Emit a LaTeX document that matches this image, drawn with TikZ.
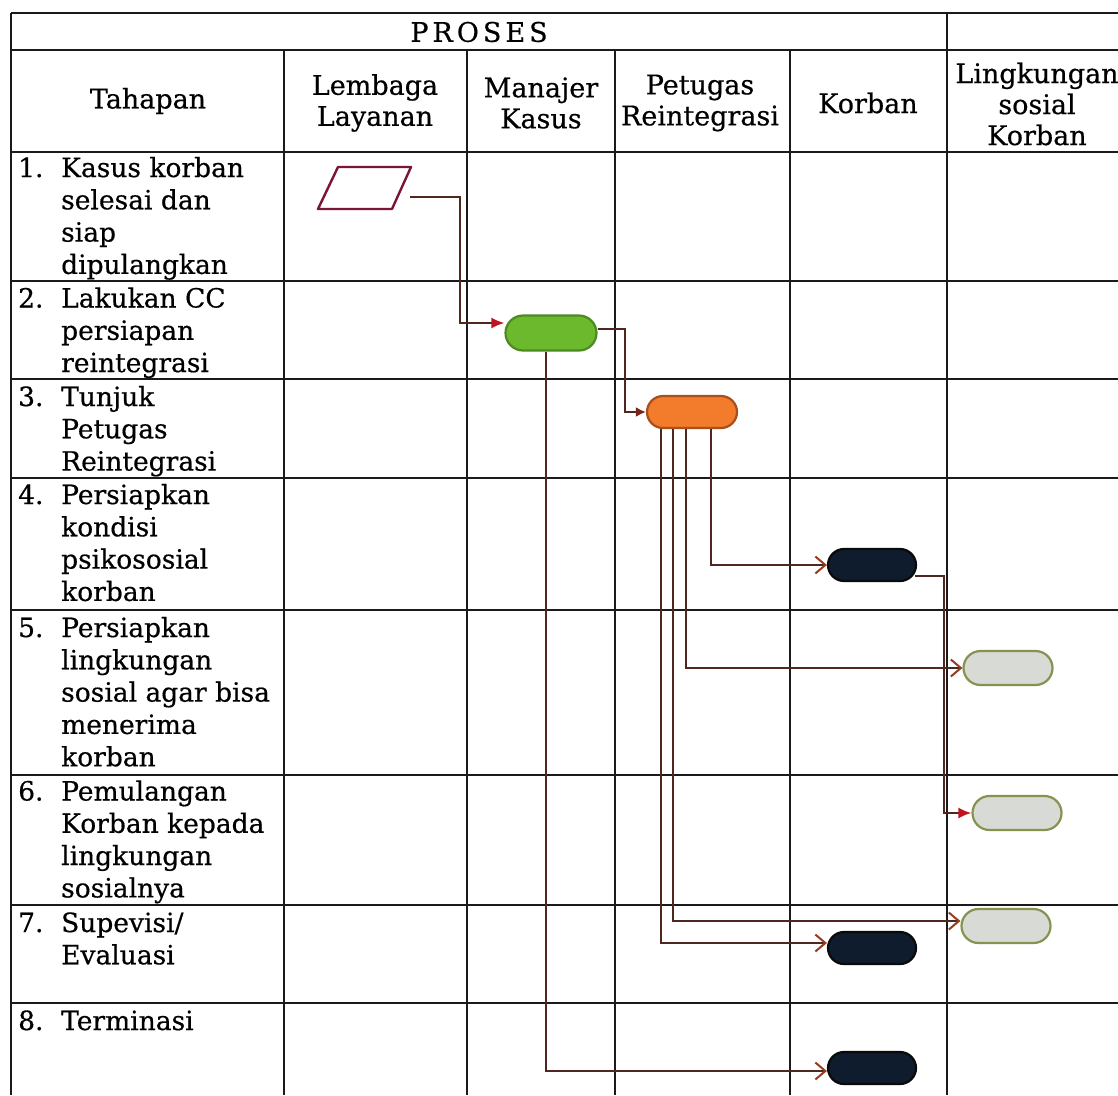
\documentclass[tikz,border=0pt]{standalone}
\usepackage{fontspec}
\setmainfont{DejaVu Serif}[FakeBold=0.5]
\usetikzlibrary{arrows.meta,shapes.misc,shapes.geometric}
\definecolor{gridc}{HTML}{1A1A1A}
\definecolor{connc}{HTML}{4F271E}
\definecolor{arrred}{HTML}{C0141E}
\definecolor{arrdark}{HTML}{7A2418}
\definecolor{barbc}{HTML}{963C20}
\definecolor{greenf}{HTML}{6CB92D}
\definecolor{greend}{HTML}{4C8A22}
\definecolor{orangef}{HTML}{F27C2C}
\definecolor{oranged}{HTML}{A8501A}
\definecolor{navyf}{HTML}{0F1C2D}
\definecolor{navyd}{HTML}{0A0A0A}
\definecolor{lightf}{HTML}{D8DBD5}
\definecolor{lightd}{HTML}{869250}
\definecolor{paral}{HTML}{7A1634}
\begin{document}
\begin{tikzpicture}[x=1pt,y=-1pt,
  grid/.style={draw=gridc,line width=2.6pt},
  hdr/.style={align=center,inner sep=0pt,font=\fontsize{27}{31}\selectfont},
  stxt/.style={anchor=base west,inner sep=0pt,font=\fontsize{26.5}{32.3}\selectfont},
  pill/.style={rounded rectangle,minimum width=89pt,minimum height=33pt,line width=2.2pt,inner sep=0pt},
  pgreen/.style={pill,fill=greenf,draw=greend,minimum width=91pt,minimum height=35pt},
  porange/.style={pill,fill=orangef,draw=oranged,minimum width=90pt,minimum height=32pt},
  pnavy/.style={pill,fill=navyf,draw=navyd,minimum width=88pt,minimum height=32pt},
  plight/.style={pill,fill=lightf,draw=lightd,minimum width=89pt,minimum height=34pt},
  pbox/.style={inner sep=0pt,minimum width=93pt,minimum height=42pt},
  paralline/.style={draw=paral,line width=2.4pt,fill=white,line join=round},
  conn/.style={draw=connc,line width=2pt},
  fillred/.style={-{Latex[length=13pt,width=11pt,color=arrred]}},
  filldark/.style={-{Latex[length=10pt,width=10pt,color=arrdark]}},
  openbarb/.style={-{Straight Barb[length=10pt,width=17pt,line width=2pt,color=barbc]}}
]
\useasboundingbox (0,0) rectangle (1118,1095);
\fill[white] (0,0) rectangle (1118,1095);

% grid
\foreach \yy in {13,50,152,281,379,478,610,775,905,1003}
  \draw[grid] (11,\yy) -- (1118,\yy);
\draw[grid] (11,13) -- (11,1095);
\draw[grid] (947,13) -- (947,1095);
\foreach \xx in {284,467,615,790}
  \draw[grid] (\xx,50) -- (\xx,1095);

% headers
\node[hdr] (hproses) at (479,32) {P\kern4pt R\kern4pt O\kern4pt S\kern4pt E\kern4pt S};
\node[hdr] (htah) at (148,101) {Tahapan};
\node[hdr] (hlem) at (375,103) {Lembaga\\Layanan};
\node[hdr] (hman) at (541,103) {Manajer\\Kasus};
\node[hdr] (hpet) at (700,103) {Petugas\\Reintegrasi};
\node[hdr] (hkor) at (868,103) {Korban};
\node[hdr] (hlin) at (1037,104) {Lingkungan\\sosial\\Korban};

% step texts
\node[stxt] (t1) at (18,177) {\begin{tabular}[t]{@{}l@{}l@{}}\makebox[43pt][l]{1.}&Kasus korban\\&selesai dan\\&siap\\&dipulangkan\end{tabular}};
\node[stxt] (t2) at (18,307.5) {\begin{tabular}[t]{@{}l@{}l@{}}\makebox[43pt][l]{2.}&Lakukan CC\\&persiapan\\&reintegrasi\end{tabular}};
\node[stxt] (t3) at (18,406) {\begin{tabular}[t]{@{}l@{}l@{}}\makebox[43pt][l]{3.}&Tunjuk\\&Petugas\\&Reintegrasi\end{tabular}};
\node[stxt] (t4) at (18,504) {\begin{tabular}[t]{@{}l@{}l@{}}\makebox[43pt][l]{4.}&Persiapkan\\&kondisi\\&psikososial\\&korban\end{tabular}};
\node[stxt] (t5) at (18,637) {\begin{tabular}[t]{@{}l@{}l@{}}\makebox[43pt][l]{5.}&Persiapkan\\&lingkungan\\&sosial agar bisa\\&menerima\\&korban\end{tabular}};
\node[stxt] (t6) at (18,800.5) {\begin{tabular}[t]{@{}l@{}l@{}}\makebox[43pt][l]{6.}&Pemulangan\\&Korban kepada\\&lingkungan\\&sosialnya\end{tabular}};
\node[stxt] (t7) at (18,932) {\begin{tabular}[t]{@{}l@{}l@{}}\makebox[43pt][l]{7.}&Supevisi/\\&Evaluasi\end{tabular}};
\node[stxt] (t8) at (18,1030) {\begin{tabular}[t]{@{}l@{}l@{}}\makebox[43pt][l]{8.}&Terminasi\end{tabular}};

% process shapes
\node[pbox] (p1) at (365,188) {};
\draw[paralline] (338,167) -- (411,167) -- (392,209) -- (318,209) -- cycle;
\node[pgreen] (n2) at (551,333) {};
\node[porange] (n3) at (692,412) {};
\node[pnavy] (k4) at (872,565) {};
\node[plight] (l5) at (1008,668) {};
\node[plight] (l6) at (1017,813) {};
\node[plight] (l7) at (1006,926) {};
\node[pnavy] (k7) at (872,948) {};
\node[pnavy] (k8) at (872,1068) {};

% connectors
\coordinate (j1) at (460,323);
\draw[conn,fillred] ([xshift=-1.5pt,yshift=-9pt]p1.east) -| (j1) -- ([yshift=10pt]n2.west);
\draw[conn,filldark] ([yshift=4pt]n2.east) -- ++(27.5,0) |- (n3.west);
\draw[conn,openbarb] ([xshift=19pt]n3.south) |- (k4.west);
\draw[conn,openbarb] ([xshift=-6pt]n3.south) |- (l5.west);
\draw[conn,openbarb] ([xshift=-19pt]n3.south) |- ([yshift=5pt]l7.west);
\draw[conn,openbarb] ([xshift=-31pt]n3.south) |- ([yshift=5pt]k7.west);
\draw[conn,openbarb] ([xshift=-5pt]n2.south) |- ([yshift=-3pt]k8.west);
\draw[conn,fillred] ([xshift=-2pt,yshift=-11pt]k4.east) -- ++(29,0) |- (l6.west);
\end{tikzpicture}
\end{document}
